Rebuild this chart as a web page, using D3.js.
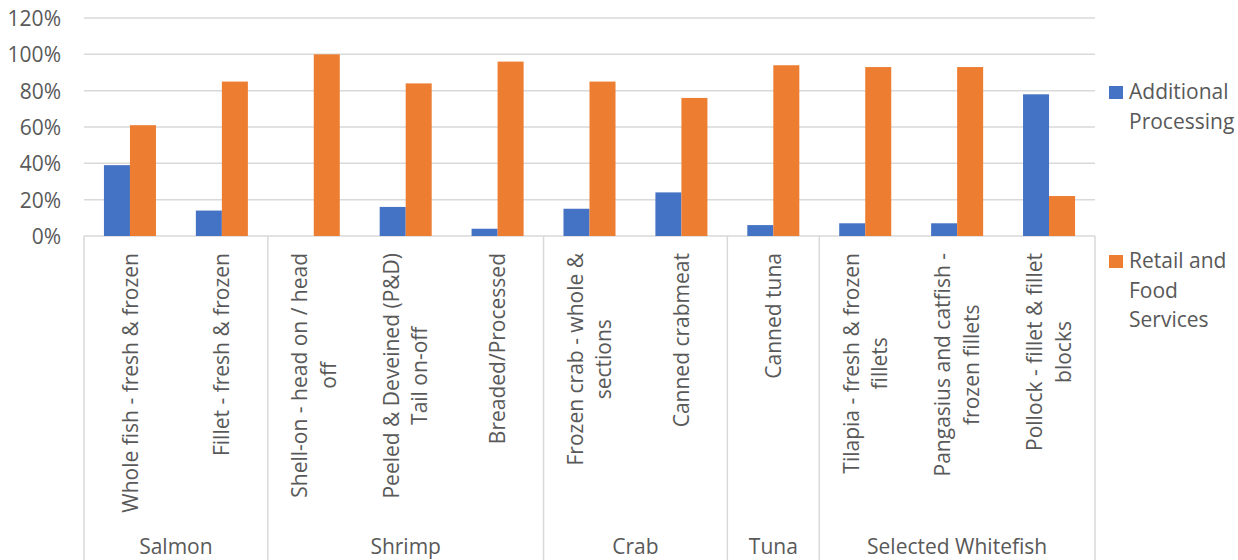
<!DOCTYPE html>
<html>
<head>
<meta charset="utf-8">
<script src="https://cdn.jsdelivr.net/npm/d3@7"></script>
<style>
  html, body { margin: 0; padding: 0; background: #fff; }
  svg text { font-family: "Open Sans", Lato, sans-serif; fill: #595959; }
</style>
</head>
<body>
<svg id="chart" width="1238" height="560"></svg>
<script>
// Product forms (each label split into its displayed lines)
const categories = [
  ["Whole fish - fresh & frozen"],
  ["Fillet - fresh & frozen"],
  ["Shell-on - head on / head", "off"],
  ["Peeled & Deveined (P&D)", "Tail on-off"],
  ["Breaded/Processed"],
  ["Frozen crab - whole &", "sections"],
  ["Canned crabmeat"],
  ["Canned tuna"],
  ["Tilapia - fresh & frozen", "fillets"],
  ["Pangasius and catfish -", "frozen fillets"],
  ["Pollock - fillet & fillet", "blocks"]
];
// Species groups and how many product forms each covers
const groups = ["Salmon", "Shrimp", "Crab", "Tuna", "Selected Whitefish"];
const groupSizes = [2, 3, 2, 1, 3];

// Share of volume by channel
const additionalProcessing = [0.39, 0.14, 0.00, 0.16, 0.04, 0.15, 0.24, 0.06, 0.07, 0.07, 0.78];
const retailFoodServices   = [0.61, 0.85, 1.00, 0.84, 0.96, 0.85, 0.76, 0.94, 0.93, 0.93, 0.22];

const seriesNames = [["Additional", "Processing"], ["Retail and", "Food", "Services"]];
const seriesColors = ["#4472C4", "#ED7D31"];
const yTicks = [0, 0.2, 0.4, 0.6, 0.8, 1.0, 1.2];

const svg = d3.select("#chart");
const plotLeft = 84, plotRight = 1095, plotTop = 18, plotBase = 236, axisBottom = 560;
const gridColor = "#d9d9d9";
const fontSize = 21;
const fontFamily = "'Open Sans', Lato, sans-serif";

const idx = d3.range(categories.length);
const x = d3.scaleBand().domain(idx).range([plotLeft, plotRight]).paddingInner(0.434).paddingOuter(0.217);
const xs = d3.scaleBand().domain([0, 1]).range([0, x.bandwidth()]);
const y = d3.scaleLinear().domain([0, 1.2]).range([plotBase, plotTop]);
const step = x.step();

// Horizontal gridlines
svg.append("g").selectAll("line").data(yTicks).join("line")
  .attr("x1", plotLeft).attr("x2", plotRight)
  .attr("y1", d => y(d)).attr("y2", d => y(d))
  .attr("stroke", gridColor).attr("stroke-width", 1.5);

// Y axis labels
const yAxis = d3.axisLeft(y).tickValues(yTicks).tickFormat(d3.format(".0%")).tickSize(0).tickPadding(0);
const yg = svg.append("g").attr("transform", `translate(61,0)`).call(yAxis);
yg.select(".domain").remove();
yg.selectAll("text").attr("font-size", fontSize).attr("font-family", fontFamily).attr("fill", "#595959").attr("dy", "0.36em");

// Bars
const series = [additionalProcessing, retailFoodServices];
series.forEach((vals, s) => {
  svg.append("g").selectAll("rect").data(vals).join("rect")
    .attr("x", (d, i) => x(i) + xs(s))
    .attr("width", xs.bandwidth())
    .attr("y", d => y(d))
    .attr("height", d => plotBase - y(d))
    .attr("fill", seriesColors[s]);
});

// Group separators on the category axis
const boundaries = [0].concat(Array.from(d3.cumsum(groupSizes)));
svg.append("g").selectAll("line").data(boundaries).join("line")
  .attr("x1", d => plotLeft + d * step).attr("x2", d => plotLeft + d * step)
  .attr("y1", plotBase).attr("y2", axisBottom)
  .attr("stroke", gridColor).attr("stroke-width", 1.5);

// Rotated product labels, lines centred on each other, block top-aligned
const lh = 28.5;
const catG = svg.append("g");
categories.forEach((lines, i) => {
  const cx = x(i) + x.bandwidth() / 2;
  const t = catG.append("text")
    .attr("transform", `translate(${cx},253) rotate(-90)`)
    .attr("font-size", fontSize)
    .attr("text-anchor", "middle");
  const spans = lines.map((ln, j) => t.append("tspan")
    .attr("y", (j - (lines.length - 1) / 2) * lh)
    .attr("dy", "0.36em")
    .text(ln));
  const maxLen = d3.max(spans, sp => sp.node().getComputedTextLength());
  spans.forEach(sp => sp.attr("x", -maxLen / 2));
});

// Group labels
svg.append("g").selectAll("text").data(groups).join("text")
  .attr("x", (d, i) => plotLeft + (boundaries[i] + groupSizes[i] / 2) * step)
  .attr("y", 554)
  .attr("text-anchor", "middle")
  .attr("font-size", fontSize)
  .text(d => d);

// Legend
const legendY = [86, 255];
seriesNames.forEach((lines, s) => {
  const g = svg.append("g");
  g.append("rect").attr("x", 1109).attr("y", legendY[s]).attr("width", 14).attr("height", 13)
    .attr("fill", seriesColors[s]);
  const t = g.append("text").attr("font-size", fontSize);
  lines.forEach((ln, j) => t.append("tspan")
    .attr("x", 1129).attr("y", legendY[s] + 13 + j * 29.5).text(ln));
});
</script>
</body>
</html>
